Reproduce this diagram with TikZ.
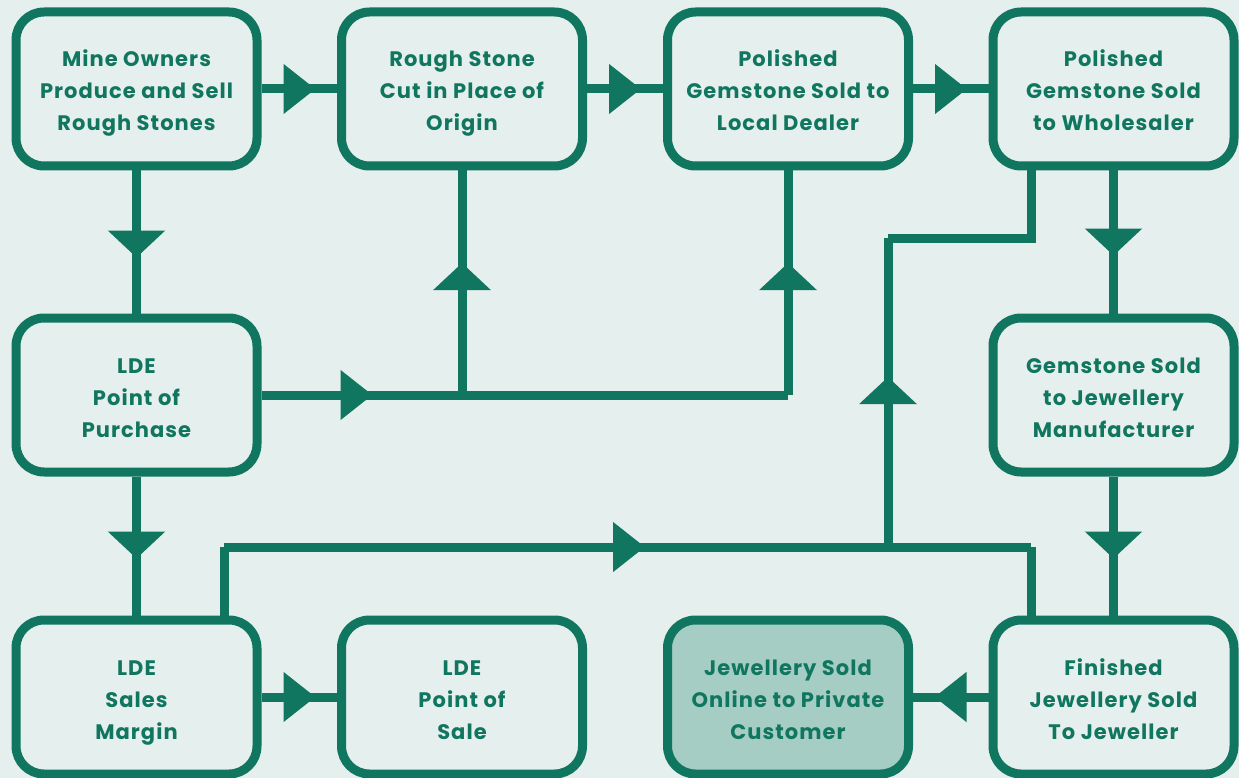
\documentclass[tikz,border=0pt]{standalone}
\usepackage{fontspec}
\setmainfont{Poppins}[LetterSpace=5]
\usetikzlibrary{arrows.meta,decorations.markings}
\definecolor{teal}{HTML}{10765F}
\definecolor{bgc}{HTML}{E5EFED}
\definecolor{fillc}{HTML}{A5CDC4}
\tikzset{
  box/.style={draw=teal, line width=9pt, rounded corners=28pt, fill=bgc,
    minimum width=241pt, minimum height=154pt, align=center, text=teal,
    font=\fontsize{21}{32}\selectfont\bfseries, inner sep=0pt,
    text height=84pt, text depth=0pt},
  conn/.style={draw=teal, line width=9pt},
  harr/.style={postaction={decorate}, decoration={markings,
    mark=at position #1 with {\arrow[teal]{Triangle[length=32pt,width=48pt]}}}},
  varr/.style={postaction={decorate}, decoration={markings,
    mark=at position #1 with {\arrow[teal]{Triangle[length=27pt,width=56pt]}}}},
}
\begin{document}
\begin{tikzpicture}[x=1pt,y=-1pt]
\useasboundingbox (0,0) rectangle (1239,778);
\fill[bgc] (0,0) rectangle (1239,778);
\coordinate (j1) at (462,395);
\coordinate (j0) at (788,395);
\coordinate (c9) at (224,547);
\coordinate (j2) at (888,547);
\coordinate (j3) at (1031,547);
\coordinate (k1) at (888,238);
\coordinate (k2) at (1031,238);

\node[box] (b1) at (136.5,89) {Mine Owners\\Produce and Sell\\Rough Stones};
\node[box] (b2) at (462,89) {Rough Stone\\Cut in Place of\\Origin};
\node[box] (b3) at (788,89) {Polished\\Gemstone Sold to\\Local Dealer};
\node[box] (b4) at (1113.5,89) {Polished\\Gemstone Sold\\to Wholesaler};
\node[box] (b5) at (136.5,395) {LDE\\Point of\\Purchase};
\node[box] (b8) at (1113.5,395) {Gemstone Sold\\to Jewellery\\Manufacturer};
\node[box] (b9) at (136.5,697) {LDE\\Sales\\Margin};
\node[box] (b10) at (462,697) {LDE\\Point of\\Sale};
\node[box, fill=fillc] (b11) at (788,697) {Jewellery Sold\\Online to Private\\Customer};
\node[box] (b12) at (1113.5,697) {Finished\\Jewellery Sold\\To Jeweller};

\draw[conn, harr=54pt] (b1) -- (b2);
\draw[conn, harr=54pt] (b2) -- (b3);
\draw[conn, harr=54pt] (b3) -- (b4);
\draw[conn, varr=87pt] (b1) -- (b5);
\draw[conn, varr=85pt] (b4) -- (b8);
\draw[conn, varr=82pt] (b5) -- (b9);
\draw[conn, varr=82pt] (b8) -- (b12);
\draw[conn, harr=54pt] (b9) -- (b10);
\draw[conn, harr=54pt] (b12) -- (b11);

\draw[conn, harr=111pt] (b5.east) -- (j1);
\draw[conn, varr=132pt] (j1) -- (b2.south);
\draw[conn] (j1) -- (j0);
\draw[conn, varr=132pt] (j0) -- (b3.south);
\coordinate (p9) at ([xshift=87.5pt]b9.north);
\draw[conn] (p9) -- (c9);
\draw[conn, harr=421pt] (c9) -- (j2);
\draw[conn] (j2) -- (j3);
\coordinate (p12) at ([xshift=-82.5pt]b12.north);
\draw[conn] (j3) -- (p12);
\draw[conn, varr=170pt] (j2) -- (k1);
\coordinate (p4) at ([xshift=-82.5pt]b4.south);
\draw[conn] (k1) -- (k2) -- (p4);
\end{tikzpicture}
\end{document}
